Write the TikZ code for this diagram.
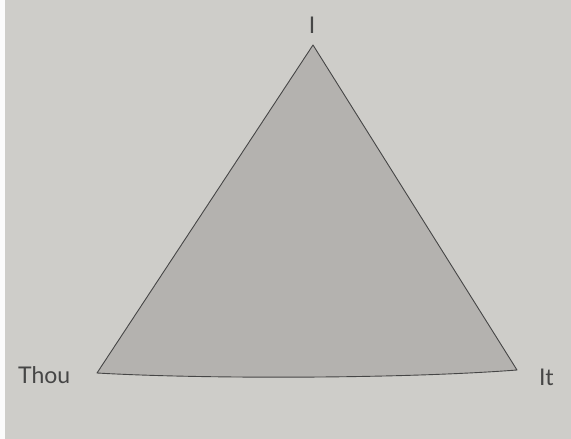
\documentclass[tikz,border=0pt]{standalone}
\usepackage{fontspec}
\setmainfont{Lato}
\definecolor{paper}{RGB}{206,205,201}
\definecolor{tri}{RGB}{180,178,175}
\definecolor{ink}{RGB}{70,70,70}
\begin{document}
\begin{tikzpicture}[x=1pt,y=-1pt,
  lbl/.style={text=ink,font=\fontsize{23}{26}\selectfont,inner sep=0pt},
  edge/.style={draw=ink,line width=0.9pt,line join=round}]
\useasboundingbox (0,0) rectangle (571,439);
\fill[paper] (0,0) rectangle (571,439);
\fill[white!92!paper] (0,0) rectangle (5,439);
\coordinate (top) at (313,45);
\coordinate (bl) at (97,373);
\coordinate (br) at (517,370);
\path[edge,fill=tri] (top) -- (br) .. controls (400,379) and (200,379) .. (bl) -- cycle;
\node[lbl,anchor=base] (i) at (312,34) {I};
\node[lbl,anchor=base west] (thou) at (18,383) {Thou};
\node[lbl,anchor=base west] (it) at (539,385) {It};
\end{tikzpicture}
\end{document}
